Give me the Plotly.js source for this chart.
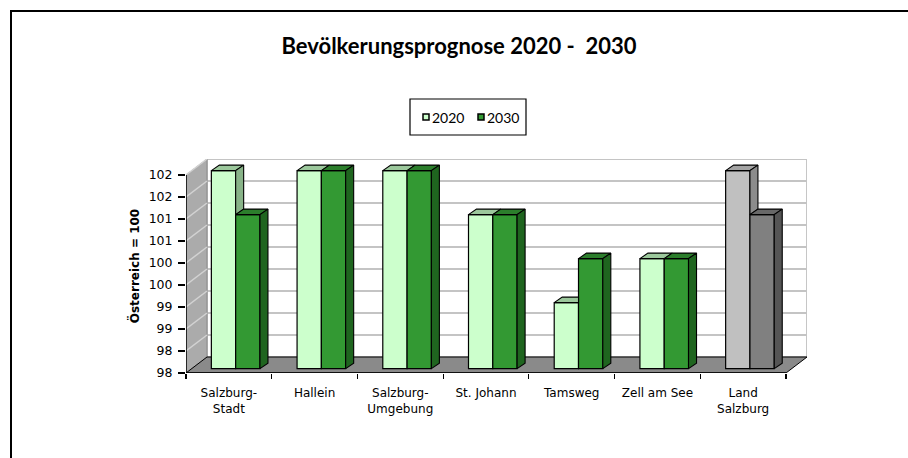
<!DOCTYPE html>
<html>
<head>
<meta charset="utf-8">
<script src="https://cdn.plot.ly/plotly-3.0.1.min.js"></script>
<style>html,body{margin:0;padding:0;background:#fff;}#chart{width:908px;height:458px;}</style>
</head>
<body>
<div id="chart"></div>
<script>
// ---- data ----
const categories = ['Salzburg-<br>Stadt', 'Hallein', 'Salzburg-<br>Umgebung', 'St. Johann', 'Tamsweg', 'Zell am See', 'Land<br>Salzburg'];
const series2020 = [102, 102, 102, 101, 99, 100, 102];
const series2030 = [101, 102, 102, 101, 100, 100, 101];
const seriesNames = ['2020', '2030'];
const yTickVals = [97.5, 98, 98.5, 99, 99.5, 100, 100.5, 101, 101.5, 102];
const yTickText = ['98', '98', '99', '99', '100', '100', '101', '101', '102', '102'];
const chartTitle = 'Bevölkerungsprognose 2020 -  2030';
const yTitle = 'Österreich = 100';

// ---- styling / geometry ----
const W = 908, H = 458;
const L = 186, T = 159;           // plot area top-left (px)
const FW = 600, FH = 198;         // front face size (px)
const WX = 21, WY = 16;           // wall depth (px)
const nCat = categories.length;
const yMin = yTickVals[0], yMax = yTickVals[yTickVals.length - 1];
const PX = FW / nCat, PY = FH / (yMax - yMin);
const PW = FW + WX, PH = FH + WY;
const wdx = WX / PX, wdy = WY / PY;
const bdx = 8 / PX, bdy = 5.5 / PY;     // bar depth
const boff = 6.8 / PX, bup = 4.4 / PY;  // bar placement inside the depth
const bw = 24.3 / PX;

const greenFront = ['#CCFFCC', '#339933'];
const greenTop = ['#9CC89C', '#2C7E2C'];
const greenSide = ['#88B388', '#1F651F'];
const greyFront = ['#C0C0C0', '#808080'];
const greyTop = ['#A3A3A3', '#686868'];
const greySide = ['#8C8C8C', '#555555'];
const totalIndex = nCat - 1;

function col(arrG, arrY, s, i) { return i === totalIndex ? arrY[s] : arrG[s]; }

const xc = categories.map((c, i) => i + 0.5 + boff);
const base = yMin + bup;
const data = [];

// front faces as bars
[series2020, series2030].forEach((vals, s) => {
  data.push({
    type: 'bar',
    name: seriesNames[s],
    x: xc,
    y: vals.map(v => v - yMin),
    base: vals.map(() => base),
    width: vals.map(() => bw),
    offset: vals.map(() => s === 0 ? -bw : 0),
    marker: { color: vals.map((v, i) => col(greenFront, greyFront, s, i)), line: { color: '#000', width: 1.2 } },
    showlegend: false,
    hoverinfo: 'skip'
  });
});

function poly(pts, fill) {
  data.push({
    type: 'scatter', mode: 'lines', fill: 'toself', fillcolor: fill,
    x: pts.map(p => p[0]).concat([pts[0][0]]),
    y: pts.map(p => p[1]).concat([pts[0][1]]),
    line: { color: '#000', width: 1.1 },
    showlegend: false, hoverinfo: 'skip'
  });
}

categories.forEach((c, i) => {
  const t20 = series2020[i] + bup, t30 = series2030[i] + bup;
  // 2020 bar
  let xl = xc[i] - bw, xr = xc[i];
  if (t30 > t20) {
    poly([[xl, t20], [xr, t20], [xr, t20 + bdy], [xl + bdx, t20 + bdy]], col(greenTop, greyTop, 0, i));
  } else {
    poly([[xl, t20], [xr, t20], [xr + bdx, t20 + bdy], [xl + bdx, t20 + bdy]], col(greenTop, greyTop, 0, i));
  }
  if (t20 > t30) {
    poly([[xr, t30], [xr + bdx, t30 + bdy], [xr + bdx, t20 + bdy], [xr, t20]], col(greenSide, greySide, 0, i));
  }
  // 2030 bar
  xl = xc[i]; xr = xc[i] + bw;
  poly([[xl, t30], [xr, t30], [xr + bdx, t30 + bdy], [xl + bdx, t30 + bdy]], col(greenTop, greyTop, 1, i));
  poly([[xr, base], [xr + bdx, base + bdy], [xr + bdx, t30 + bdy], [xr, t30]], col(greenSide, greySide, 1, i));
});

// ---- walls, floor, grid (shapes) ----
const shapes = [];
// back wall
shapes.push({ type: 'rect', xref: 'x', yref: 'y', layer: 'below', x0: wdx, x1: nCat + wdx, y0: yMin + wdy, y1: yMax + wdy,
  fillcolor: '#FFFFFF', line: { color: '#B4B4B4', width: 1.5 } });
// grid on back wall
yTickVals.forEach((t, k) => {
  if (k === 0) return;
  shapes.push({ type: 'line', xref: 'x', yref: 'y', layer: 'below', x0: wdx, x1: nCat + wdx, y0: t + wdy, y1: t + wdy,
    line: { color: '#C4C4C4', width: 2 } });
});
// left wall
shapes.push({ type: 'path', xref: 'x', yref: 'y', layer: 'below',
  path: `M0,${yMin} L${wdx},${yMin + wdy} L${wdx},${yMax + wdy} L0,${yMax} Z`,
  fillcolor: '#ABABAB', line: { color: '#8A8A8A', width: 1 } });
yTickVals.forEach((t, k) => {
  if (k === 0) return;
  shapes.push({ type: 'line', xref: 'x', yref: 'y', layer: 'below', x0: 0, x1: wdx, y0: t, y1: t + wdy,
    line: { color: '#D2D2D2', width: 1.5 } });
});
// floor
shapes.push({ type: 'path', xref: 'x', yref: 'y', layer: 'below',
  path: `M0,${yMin} L${nCat},${yMin} L${nCat + wdx},${yMin + wdy} L${wdx},${yMin + wdy} Z`,
  fillcolor: '#8A8A8A', line: { color: '#000', width: 1 } });
// front value axis line
shapes.push({ type: 'line', xref: 'x', yref: 'y', layer: 'below', x0: 0, x1: 0, y0: yMin, y1: yMax,
  line: { color: '#000', width: 1.5 } });
// front category axis line
shapes.push({ type: 'line', xref: 'x', yref: 'y', layer: 'below', x0: 0, x1: nCat, y0: yMin, y1: yMin,
  line: { color: '#000', width: 1.5 } });

// pixel -> paper helpers (for frame and legend)
const px = v => (v - L) / PW;
const py = v => (T + PH - v) / PH;
// outer frame (top and left edges)
shapes.push({ type: 'path', xref: 'paper', yref: 'paper', layer: 'above',
  path: `M${px(11)},${py(460)} L${px(11)},${py(11)} L${px(910)},${py(11)}`,
  line: { color: '#000', width: 2 } });

// legend (box + swatches)
const annotations = [];
shapes.push({ type: 'rect', xref: 'paper', yref: 'paper', layer: 'above',
  x0: px(410), x1: px(526), y0: py(135), y1: py(99), fillcolor: 'rgba(0,0,0,0)', line: { color: '#000', width: 1.2 } });
const legX = [423, 478];
seriesNames.forEach((n, s) => {
  shapes.push({ type: 'rect', xref: 'paper', yref: 'paper', layer: 'above',
    x0: px(legX[s]), x1: px(legX[s] + 6), y0: py(120), y1: py(114),
    fillcolor: greenFront[s], line: { color: '#000', width: 1.5 } });
  annotations.push({ xref: 'paper', yref: 'paper', x: px(legX[s] + 7), y: py(117), xanchor: 'left', yanchor: 'middle',
    text: n, showarrow: false, font: { family: 'Lato, sans-serif', size: 14, color: '#000' } });
});

const layout = {
  width: W, height: H,
  margin: { l: L, r: W - L - PW, t: T, b: H - T - PH, pad: 0 },
  paper_bgcolor: '#fff', plot_bgcolor: 'rgba(0,0,0,0)',
  showlegend: false,
  title: { text: chartTitle, x: 459 / W, xanchor: 'center', xref: 'container', yref: 'container', y: 1 - 46 / H, yanchor: 'middle',
    font: { family: 'Lato, sans-serif', size: 22, color: '#000', weight: 'bold' } },
  xaxis: {
    range: [0, nCat + wdx], fixedrange: true, showgrid: false, zeroline: false, showline: false,
    tickmode: 'array', tickvals: categories.map((c, i) => i + 0.5), ticktext: categories, ticks: '',
    ticklabelstandoff: 11,
    tickfont: { family: 'DejaVu Sans, sans-serif', size: 12, color: '#000' },
    minor: { tickmode: 'array', tickvals: categories.map((c, i) => i).concat([nCat]), ticks: 'outside', ticklen: 5, tickcolor: '#000', tickwidth: 1.2, showgrid: false }
  },
  yaxis: {
    range: [yMin, yMax + wdy], fixedrange: true, showgrid: false, zeroline: false, showline: false,
    tickmode: 'array', tickvals: yTickVals, ticktext: yTickText, ticks: 'outside', ticklen: 7, tickcolor: '#000', tickwidth: 1.2,
    ticklabelstandoff: 3,
    tickfont: { family: 'DejaVu Sans, sans-serif', size: 12.5, color: '#000' },
    title: { text: yTitle, standoff: 6, font: { family: 'DejaVu Sans, sans-serif', size: 12, color: '#000', weight: 'bold' } }
  },
  barmode: 'overlay',
  shapes: shapes,
  annotations: annotations
};

Plotly.newPlot('chart', data, layout, { staticPlot: true, displayModeBar: false });
</script>
</body>
</html>
